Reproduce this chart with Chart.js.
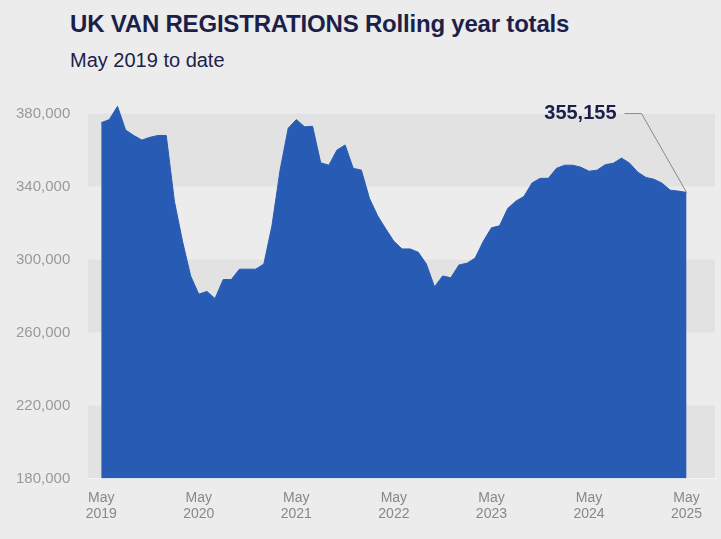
<!DOCTYPE html>
<html><head><meta charset="utf-8">
<script src="https://cdn.jsdelivr.net/npm/chart.js@4"></script>
<style>
body{margin:0;background:#ececec;font-family:"Liberation Sans",Arial,sans-serif;}
#wrap{position:relative;width:721px;height:539px;}
h1{position:absolute;left:70px;top:10px;margin:0;font-size:24px;font-weight:900;color:#1c1f4a;letter-spacing:-0.2px;}
h2{position:absolute;left:70px;top:49px;margin:0;font-size:20px;font-weight:normal;color:#1c1f4a;}
#c{position:absolute;left:0;top:80px;}
</style></head><body>
<div id="wrap">
<h1>UK VAN REGISTRATIONS Rolling year totals</h1>
<h2>May 2019 to date</h2>
<canvas id="c" width="721" height="446"></canvas>
</div>
<script>
// rolling 12-month totals, May 2019 .. May 2025
const registrations = [
  375000, 376700, 384000, 371000, 368000, 365500, 367000, 368000, 368000, 332000,
  310000, 291000, 281000, 282500, 278600, 289000, 289000, 294700, 294700, 294700,
  297500, 318500, 349000, 372000, 376700, 372800, 373000, 353000, 351700, 360000,
  362800, 350000, 349000, 333500, 324000, 316800, 310000, 305800, 305800, 304000,
  297500, 285000, 291000, 290000, 297000, 298000, 300800, 310000, 317400, 318500,
  328000, 332000, 334600, 342000, 344500, 344500, 350000, 351700, 351700, 350600,
  348400, 349000, 352000, 352800, 355600, 352800, 347900, 345000, 344000, 341800,
  338000, 337500, 336800
];
const yTicks = [180000, 220000, 260000, 300000, 340000, 380000];
const xLabels = { 0: ["May", "2019"], 12: ["May", "2020"], 24: ["May", "2021"], 36: ["May", "2022"], 48: ["May", "2023"], 60: ["May", "2024"], 72: ["May", "2025"] };
const calloutText = "355,155";

const bands = {
  id: "bands",
  beforeDatasetsDraw(chart) {
    const { ctx, scales: { x, y } } = chart;
    ctx.save();
    ctx.fillStyle = "#e2e2e2";
    [[340000, 380000], [260000, 300000], [180000, 220000]].forEach(([a, b]) => {
      ctx.fillRect(x.left, y.getPixelForValue(b), x.right - x.left, y.getPixelForValue(a) - y.getPixelForValue(b));
    });
    ctx.restore();
  },
  afterDatasetsDraw(chart) {
    const { ctx, scales: { x, y } } = chart;
    const i = registrations.length - 1;
    const px = x.getPixelForValue(i), py = y.getPixelForValue(registrations[i]);
    ctx.save();
    ctx.strokeStyle = "#888";
    ctx.lineWidth = 1;
    ctx.beginPath();
    ctx.moveTo(px, py);
    ctx.lineTo(px - 45, y.getPixelForValue(380000));
    ctx.lineTo(px - 62, y.getPixelForValue(380000));
    ctx.stroke();
    ctx.fillStyle = "#1c1f4a";
    ctx.font = "900 20px 'Liberation Sans', Arial";
    ctx.textAlign = "right";
    ctx.textBaseline = "middle";
    ctx.fillText(calloutText, px - 70, y.getPixelForValue(380000));
    ctx.restore();
  }
};

new Chart(document.getElementById("c"), {
  type: "line",
  data: {
    datasets: [{
      data: registrations.map((v, i) => ({ x: i, y: v })),
      fill: "start",
      backgroundColor: "#285cb4",
      borderColor: "#285cb4",
      borderWidth: 1,
      pointRadius: 0,
      tension: 0
    }]
  },
  options: {
    responsive: false,
    animation: false,
    layout: { padding: { left: 6, right: 6, top: 5, bottom: 0 } },
    plugins: { legend: { display: false }, tooltip: { enabled: false } },
    scales: {
      x: {
        type: "linear", min: -1.6, max: 75.5,
        grid: { display: false, drawTicks: true },
        border: { display: true, color: "#fff", width: 1 },
        afterBuildTicks(s) { s.ticks = Object.keys(xLabels).map(k => ({ value: +k })); },
        ticks: {
          color: "#888", font: { size: 14, family: "'Liberation Sans', Arial" },
          callback: v => xLabels[v]
        }
      },
      y: {
        min: 180000, max: 388000,
        grid: { display: false },
        border: { display: false },
        afterBuildTicks(s) { s.ticks = yTicks.map(v => ({ value: v })); },
        ticks: {
          color: "#999", padding: 10, font: { size: 15, family: "'Liberation Sans', Arial" },
          callback: v => v.toLocaleString("en-GB")
        }
      }
    }
  },
  plugins: [bands]
});
</script>
</body></html>
